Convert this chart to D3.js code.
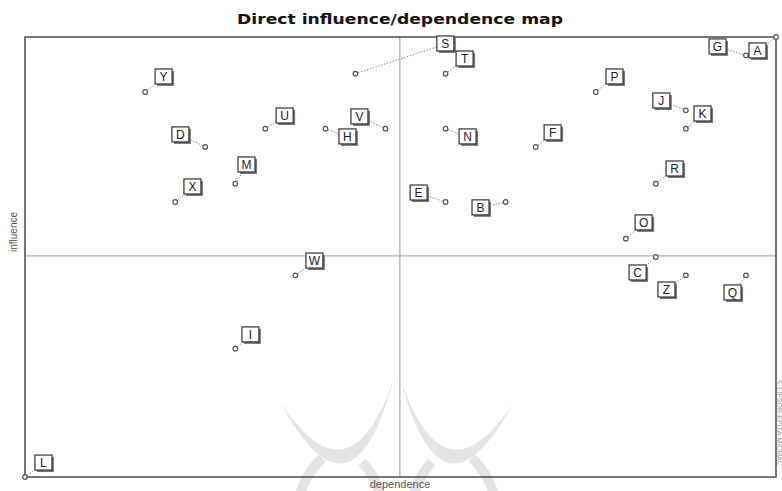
<!DOCTYPE html>
<html>
<head>
<meta charset="utf-8">
<script src="https://cdn.jsdelivr.net/npm/d3@7"></script>
<style>
  html, body { margin: 0; padding: 0; background: #fff; }
  svg { display: block; }
</style>
</head>
<body>
<svg id="chart" width="782" height="491"></svg>
<script>
// ---- data ----
const variables  = ["A","B","C","D","E","F","G","H","I","J","K","L","M","N","O","P","Q","R","S","T","U","V","W","X","Y","Z"];
const dependence = [25,16,21, 6,14,17,24,10, 7,22,22, 0, 7,14,20,19,24,21,11,14, 8,12, 9, 5, 4,22];
const influence  = [24,15,12,18,15,18,23,19, 7,20,19, 0,16,19,13,21,11,16,22,22,19,19,11,15,21,11];
// label anchor positions (in the map's own units)
const labelDep   = [24.40,15.18,20.41,5.19,13.12,17.58,23.07,10.75,7.52,21.20,22.57,0.63,7.39,14.75,20.61,19.64,23.57,21.64,14.01,14.65,8.66,11.15,9.65,5.59,4.63,21.37];
const labelInf   = [23.24,14.68,11.13,18.66,15.49,18.77,23.46,18.55,7.75,20.51,19.80,0.76,17.02,18.55,13.86,21.82,10.04,16.80,23.62,22.80,19.69,19.64,11.78,15.82,21.82,10.20];
const depDomain = [0, 25];
const infDomain = [0, 24];
const depSplit = 12.48;
const infSplit = 12.06;
const titleText = "Direct influence/dependence map";
const xTitle = "dependence";
const yTitle = "influence";
const credit = "© LIPSOR-EPITA-MICMAC";

// ---- layout ----
const svg = d3.select("#chart");
const mLeft = 25, mRight = 776, mTop = 37, mBottom = 477;
const x = d3.scaleLinear().domain(depDomain).range([mLeft, mRight]);
const y = d3.scaleLinear().domain(infDomain).range([mBottom, mTop]);

// faint background watermark (logo)
const wm = svg.append("g").attr("fill", "#e4e4e4").attr("stroke", "none");
wm.append("path").attr("d", "M280,402 Q352,536 394,378 Q350,508 280,402 Z");
wm.append("path").attr("d", "M514,402 Q442,536 400,378 Q444,508 514,402 Z");
const legs = svg.append("g").attr("fill", "none").attr("stroke", "#e4e4e4").attr("stroke-width", 10);
legs.append("path").attr("d", "M322,458 Q305,475 300,495");
legs.append("path").attr("d", "M362,462 Q375,475 380,495");
legs.append("path").attr("d", "M432,462 Q419,475 414,495");
legs.append("path").attr("d", "M472,458 Q489,475 494,495");

// title
svg.append("text")
  .attr("x", 400).attr("y", 24)
  .attr("text-anchor", "middle")
  .attr("font-family", "DejaVu Sans, Verdana, sans-serif")
  .attr("font-weight", "bold")
  .attr("font-size", 14)
  .attr("textLength", 326)
  .attr("lengthAdjust", "spacingAndGlyphs")
  .attr("fill", "#111")
  .text(titleText);

// dividers
svg.append("line")
  .attr("x1", x(depSplit)).attr("x2", x(depSplit))
  .attr("y1", mTop).attr("y2", mBottom)
  .attr("stroke", "#9a9a9a").attr("stroke-width", 1);
svg.append("line")
  .attr("x1", mLeft).attr("x2", mRight)
  .attr("y1", y(infSplit)).attr("y2", y(infSplit))
  .attr("stroke", "#b0b0b0").attr("stroke-width", 1.2);

// frame
svg.append("rect")
  .attr("x", mLeft).attr("y", mTop)
  .attr("width", mRight - mLeft).attr("height", mBottom - mTop)
  .attr("fill", "none").attr("stroke", "#4a4a4a").attr("stroke-width", 1.5);

// axis titles
svg.append("text")
  .attr("x", 400).attr("y", 488)
  .attr("text-anchor", "middle")
  .attr("font-family", "Liberation Sans, Arial, sans-serif")
  .attr("font-size", 11)
  .attr("fill", "#555")
  .text(xTitle);
svg.append("text")
  .attr("transform", "translate(17,232) rotate(-90)")
  .attr("text-anchor", "middle")
  .attr("font-family", "Liberation Sans, Arial, sans-serif")
  .attr("font-size", 10)
  .attr("fill", "#555")
  .text(yTitle);
svg.append("text")
  .attr("transform", "translate(777,423) rotate(90)")
  .attr("text-anchor", "middle")
  .attr("font-family", "Liberation Sans, Arial, sans-serif")
  .attr("font-size", 7)
  .attr("fill", "#999")
  .text(credit);

// points
const data = variables.map((v, i) => ({
  name: v, dep: dependence[i], inf: influence[i], ld: labelDep[i], li: labelInf[i]
}));

const g = svg.append("g");
// leader lines
g.selectAll("line.leader").data(data).join("line")
  .attr("class", "leader")
  .attr("x1", d => x(d.dep)).attr("y1", d => y(d.inf))
  .attr("x2", d => x(d.ld)).attr("y2", d => y(d.li))
  .attr("stroke", "#888").attr("stroke-width", 1)
  .attr("stroke-dasharray", "1.5,1.5");
// markers
g.selectAll("circle.pt").data(data).join("circle")
  .attr("class", "pt")
  .attr("cx", d => x(d.dep)).attr("cy", d => y(d.inf))
  .attr("r", 2.3)
  .attr("fill", "#fff").attr("stroke", "#555").attr("stroke-width", 1.2);
// label boxes
const lab = g.selectAll("g.lab").data(data).join("g")
  .attr("class", "lab")
  .attr("transform", d => `translate(${x(d.ld)},${y(d.li)})`);
lab.append("rect")
  .attr("x", -7).attr("y", -6).attr("width", 17).attr("height", 15)
  .attr("fill", "#777");
lab.append("rect")
  .attr("x", -9).attr("y", -8).attr("width", 17).attr("height", 15)
  .attr("fill", "#fff").attr("stroke", "#333").attr("stroke-width", 1.2);
lab.append("text")
  .attr("x", -0.5).attr("y", 4)
  .attr("text-anchor", "middle")
  .attr("font-family", "Liberation Sans, Arial, sans-serif")
  .attr("font-size", 12)
  .attr("fill", "#222")
  .text(d => d.name);
</script>
</body>
</html>
